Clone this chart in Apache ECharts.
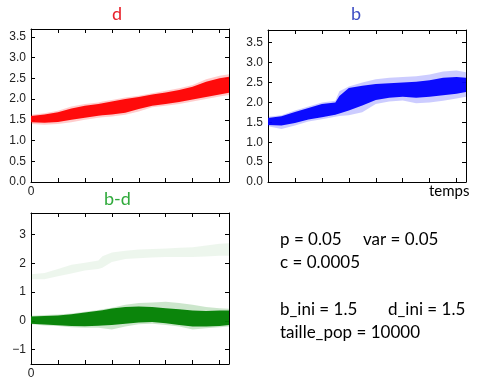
<!DOCTYPE html>
<html>
<head>
<meta charset="utf-8">
<script src="https://cdn.jsdelivr.net/npm/echarts@6/dist/echarts.min.js"></script>
<style>
  html, body { margin: 0; padding: 0; background: #fff; }
  #chart { width: 479px; height: 380px; }
</style>
</head>
<body>
<div id="chart"></div>
<script>
// time points where the spread of the trajectories was read
const time = [0, 50, 100, 150, 200, 250, 265, 300, 350, 400, 450, 500, 550, 600, 650, 700, 735]
const xTicks = [0, 100, 200, 300, 400, 500, 600, 700]

// d : outer (faint) and core (dense) envelope
const dOuterLo = [1.40, 1.38, 1.40, 1.44, 1.50, 1.55, 1.56, 1.58, 1.62, 1.70, 1.80, 1.84, 1.88, 1.94, 2.00, 2.06, 2.10]
const dOuterHi = [1.62, 1.66, 1.72, 1.82, 1.88, 1.92, 1.94, 1.98, 2.04, 2.08, 2.14, 2.20, 2.26, 2.34, 2.48, 2.56, 2.60]
const dCoreLo = [1.44, 1.43, 1.45, 1.50, 1.55, 1.60, 1.61, 1.63, 1.67, 1.76, 1.84, 1.88, 1.93, 1.99, 2.05, 2.11, 2.15]
const dCoreHi = [1.59, 1.63, 1.68, 1.77, 1.84, 1.88, 1.90, 1.94, 2.00, 2.05, 2.11, 2.16, 2.22, 2.30, 2.42, 2.50, 2.54]

// b
const bOuterLo = [1.40, 1.33, 1.42, 1.52, 1.58, 1.64, 1.66, 1.68, 1.75, 1.96, 2.02, 2.05, 1.98, 2.00, 2.04, 2.10, 2.14]
const bOuterHi = [1.64, 1.68, 1.80, 1.90, 2.00, 2.04, 2.28, 2.40, 2.50, 2.58, 2.62, 2.64, 2.66, 2.70, 2.78, 2.80, 2.76]
const bCoreLo = [1.43, 1.42, 1.48, 1.57, 1.63, 1.69, 1.72, 1.80, 1.92, 2.06, 2.12, 2.14, 2.12, 2.14, 2.18, 2.22, 2.26]
const bCoreHi = [1.61, 1.65, 1.76, 1.86, 1.96, 2.00, 2.16, 2.36, 2.42, 2.46, 2.48, 2.50, 2.52, 2.56, 2.62, 2.64, 2.62]

// b-d : main band around 0 and faint band near b
const bdOuterLo = [-0.12, -0.16, -0.18, -0.22, -0.24, -0.24, -0.26, -0.30, -0.20, -0.12, -0.10, -0.14, -0.20, -0.30, -0.26, -0.22, -0.20]
const bdOuterHi = [0.18, 0.20, 0.22, 0.26, 0.32, 0.38, 0.40, 0.46, 0.56, 0.62, 0.64, 0.66, 0.62, 0.56, 0.48, 0.44, 0.42]
const bdCoreLo = [-0.10, -0.13, -0.15, -0.18, -0.19, -0.17, -0.16, -0.14, -0.10, -0.06, -0.04, -0.08, -0.14, -0.20, -0.20, -0.18, -0.14]
const bdCoreHi = [0.15, 0.17, 0.19, 0.23, 0.29, 0.35, 0.37, 0.43, 0.48, 0.50, 0.48, 0.44, 0.40, 0.36, 0.34, 0.36, 0.36]
const bdFaintLo = [1.45, 1.45, 1.55, 1.65, 1.75, 1.80, 1.85, 2.05, 2.15, 2.18, 2.20, 2.22, 2.22, 2.22, 2.24, 2.26, 2.26]
const bdFaintHi = [1.62, 1.66, 1.80, 1.95, 2.02, 2.10, 2.25, 2.38, 2.44, 2.48, 2.50, 2.52, 2.54, 2.56, 2.62, 2.68, 2.70]

const yTicksTop = [0, 0.5, 1, 1.5, 2, 2.5, 3, 3.5]
const yTicksBd = [-1, 0, 1, 2, 3]

const chart = echarts.init(document.getElementById('chart'))

const grids = [
  { left: 31, top: 29, width: 198, height: 153 },
  { left: 268, top: 30, width: 198, height: 152 },
  { left: 31, top: 213, width: 198, height: 153 },
]

const tickFont = { fontFamily: 'Liberation Sans', fontSize: 12, color: '#222' }

function xAxes(gi, showZero) {
  const common = {
    type: 'value', gridIndex: gi, min: 0, max: 735,
    axisLine: { show: true, onZero: false, lineStyle: { color: '#000', width: 1 } },
    axisTick: { show: true, inside: true, length: 4, customValues: xTicks, lineStyle: { color: '#000' } },
    splitLine: { show: false },
  }
  return [
    Object.assign({}, common, {
      position: 'bottom',
      axisLabel: Object.assign({ show: showZero, margin: 4, customValues: [0], formatter: v => (v === 0 ? '0' : '') }, tickFont),
    }),
    Object.assign({}, common, { position: 'top', axisLabel: { show: false } }),
  ]
}

function yAxes(gi, min, max, ticks, fmt) {
  const common = {
    type: 'value', gridIndex: gi, min: min, max: max,
    axisLine: { show: true, onZero: false, lineStyle: { color: '#000', width: 1 } },
    axisTick: { show: true, inside: true, length: 4, customValues: ticks, lineStyle: { color: '#000' } },
    splitLine: { show: false },
  }
  return [
    Object.assign({}, common, {
      position: 'left',
      axisLabel: Object.assign({ margin: 5, customValues: ticks, formatter: fmt }, tickFont),
    }),
    Object.assign({}, common, { position: 'right', axisLabel: { show: false } }),
  ]
}

// a band = polygon through (t, hi) forward and (t, lo) backward
function band(gi, lo, hi, color, opacity) {
  const axisIdx = gi * 2
  return {
    type: 'custom', xAxisIndex: axisIdx, yAxisIndex: axisIdx, silent: true,
    data: time.map((t, i) => [t, lo[i], hi[i]]),
    renderItem: (params, api) => {
      if (params.dataIndex !== 0) return null
      const pts = []
      for (let i = 0; i < time.length; i++) pts.push(api.coord([time[i], hi[i]]))
      for (let i = time.length - 1; i >= 0; i--) pts.push(api.coord([time[i], lo[i]]))
      return {
        type: 'polygon',
        shape: { points: pts },
        style: { fill: color, opacity: opacity },
      }
    },
  }
}

const fmtHalf = v => v.toFixed(1)
const fmtInt = v => (v < 0 ? '\u2212' + Math.abs(v) : String(v))

const textFont = { fontFamily: 'Lato', fontSize: 17, fill: '#000' }
function label(x, y, text, size) {
  return { type: 'text', left: x, top: y, style: Object.assign({ text: text }, textFont, size ? { fontSize: size } : {}) }
}

chart.setOption({
  animation: false,
  grid: grids,
  xAxis: [].concat(xAxes(0, true), xAxes(1, false), xAxes(2, true)),
  yAxis: [].concat(
    yAxes(0, 0, 3.69, yTicksTop, fmtHalf),
    yAxes(1, 0, 3.82, yTicksTop, fmtHalf),
    yAxes(2, -1.5, 3.75, yTicksBd, fmtInt)
  ),
  series: [
    band(0, dOuterLo, dOuterHi, '#ff0000', 0.2),
    band(0, dCoreLo, dCoreHi, '#ff0000', 0.95),
    band(1, bOuterLo, bOuterHi, '#0000ff', 0.2),
    band(1, bCoreLo, bCoreHi, '#0000ff', 0.95),
    band(2, bdFaintLo, bdFaintHi, '#008000', 0.07),
    band(2, bdOuterLo, bdOuterHi, '#008000', 0.2),
    band(2, bdCoreLo, bdCoreHi, '#008000', 0.95),
  ],
  graphic: [
    { type: 'text', left: 112, top: 5, style: { text: 'd', fontFamily: 'Lato', fontSize: 18, fill: '#e8202a' } },
    { type: 'text', left: 351, top: 5, style: { text: 'b', fontFamily: 'Lato', fontSize: 18, fill: '#3f4fc4' } },
    { type: 'text', left: 104, top: 190, style: { text: 'b-d', fontFamily: 'Lato', fontSize: 18, fill: '#30aa3c' } },
    label(429, 184, 'temps', 15),
    label(280, 231, 'p = 0.05'),
    label(363, 231, 'var = 0.05'),
    label(280, 254, 'c = 0.0005'),
    label(280, 301, 'b_ini = 1.5'),
    label(388, 301, 'd_ini = 1.5'),
    label(280, 324, 'taille_pop = 10000'),
  ],
})
</script>
</body>
</html>
